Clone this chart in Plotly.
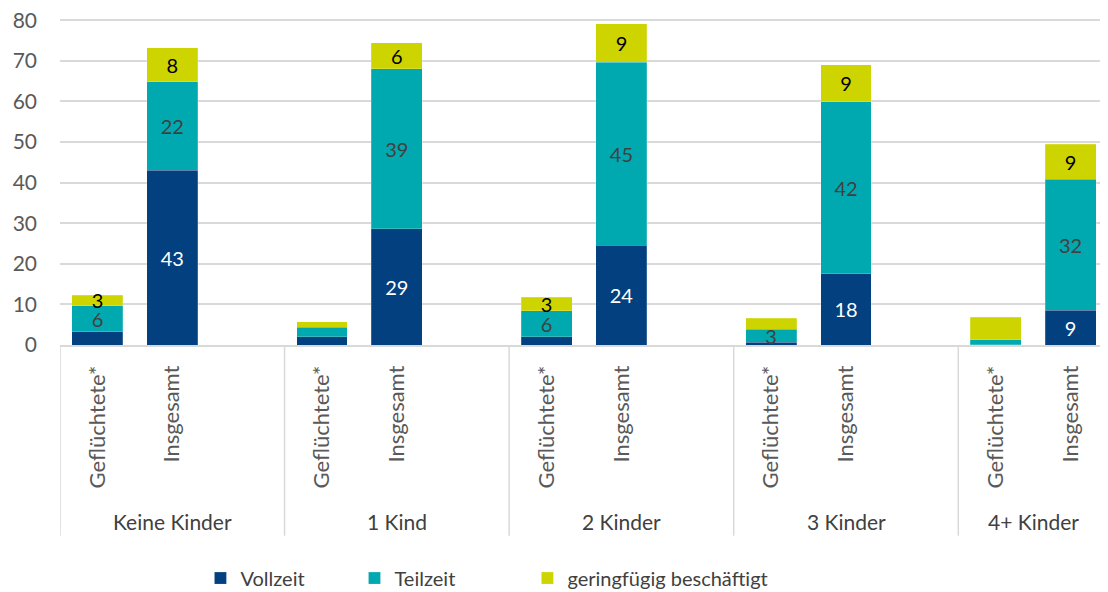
import plotly.graph_objects as go

groups = ["Keine Kinder", "1 Kind", "2 Kinder", "3 Kinder", "4+ Kinder"]
bars = ["Geflüchtete*", "Insgesamt"]

# values per bar, order: (group, bar)
vollzeit = [3.3, 43.1, 2.0, 28.6, 2.0, 24.6, 0.7, 17.5, 0.1, 8.6]
teilzeit = [6.4, 21.7, 2.4, 39.4, 6.4, 45.1, 3.2, 42.4, 1.2, 32.2]
geringfuegig = [2.6, 8.4, 1.3, 6.4, 3.4, 9.4, 2.7, 9.1, 5.5, 8.7]

vollzeit_labels = ["", "43", "", "29", "", "24", "", "18", "", "9"]
teilzeit_labels = ["6", "22", "", "39", "6", "45", "3", "42", "", "32"]
geringfuegig_labels = ["3", "8", "", "6", "3", "9", "", "9", "", "9"]

# each group has 3 slots (last slot empty), last group has no empty slot
xpos = [3 * g + b for g in range(len(groups)) for b in range(len(bars))]
xlabels = [b for g in groups for b in bars]

font = "Lato, 'Open Sans', sans-serif"

fig = go.Figure()
series = [
    ("Vollzeit", vollzeit, vollzeit_labels, "#02407f", "white", "legend", 0.134),
    ("Teilzeit", teilzeit, teilzeit_labels, "#00a9b0", "#404040", "legend2", 0.281),
    ("geringfügig beschäftigt", geringfuegig, geringfuegig_labels, "#cdd400", "black", "legend3", 0.446),
]
legends = {}
for name, vals, labels, color, tcolor, leg, lx in series:
    fig.add_trace(go.Bar(
        x=xpos, y=vals, name=name, text=labels, legend=leg,
        marker=dict(color=color, line=dict(color="rgba(255,255,255,0.4)", width=0.5)),
        width=0.68,
        textposition="inside", insidetextanchor="middle", textangle=0,
        constraintext="none",
        insidetextfont=dict(color=tcolor, size=20, family=font),
        hoverinfo="y+name",
    ))
    legends[leg] = dict(orientation="h", x=lx, xanchor="left", y=0.037, yref="container",
                        yanchor="middle", font=dict(size=20, color="#404040"), itemwidth=30,
                        bgcolor="rgba(0,0,0,0)")

# group dividers and group labels
n_slots = 3 * len(groups) - 1
for g in range(len(groups) + 1):
    xd = min(3 * g - 0.5, n_slots - 0.5)
    fig.add_shape(type="line", xref="x", yref="paper", x0=xd, x1=xd, y0=0, y1=-0.585,
                  line=dict(color="#d9d9d9", width=1.5))
for g, name in enumerate(groups):
    center = 3 * g + 1 if g < len(groups) - 1 else 3 * g + 0.5
    fig.add_annotation(x=center, y=-0.54, xref="x", yref="paper", text=name,
                       showarrow=False, font=dict(size=21, color="#404040", family=font),
                       yanchor="middle")

fig.update_layout(
    barmode="stack",
    width=1108, height=592,
    margin=dict(l=52, r=8, t=11, b=255),
    plot_bgcolor="white", paper_bgcolor="white",
    font=dict(family=font, size=21, color="#595959"),
    showlegend=True,
    xaxis=dict(range=[-0.5, n_slots - 0.5], tickvals=xpos, ticktext=xlabels,
               tickangle=-90, showgrid=False, zeroline=False, showline=True,
               linecolor="#d9d9d9", linewidth=1.5, ticks="", automargin=False,
               ticklabelstandoff=10,
               tickfont=dict(size=22, color="#595959")),
    yaxis=dict(range=[0, 80.3], tickvals=[0, 10, 20, 30, 40, 50, 60, 70, 80],
               showgrid=True, gridcolor="#d9d9d9", gridwidth=1.5,
               zeroline=False, showline=False, ticks="", automargin=False,
               ticklabelstandoff=22, ticklabeloverflow="allow",
               tickfont=dict(size=21, color="#595959")),
    **legends,
)

fig.write_html("out.html")
